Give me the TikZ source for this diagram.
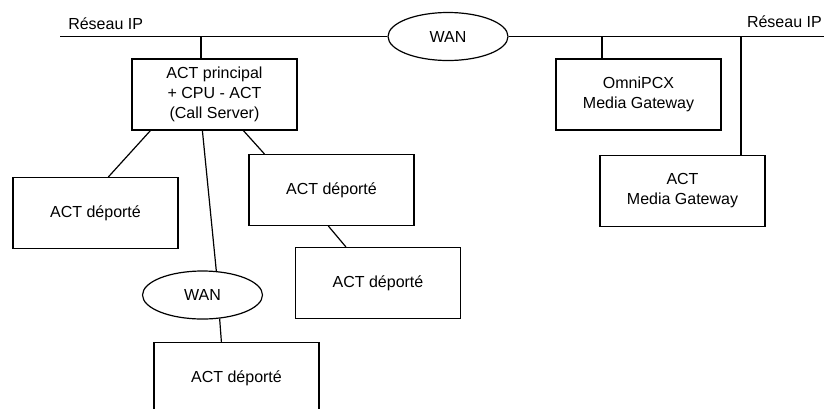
\documentclass[tikz,border=0pt]{standalone}
\usepackage{fontspec}
\setmainfont{Liberation Sans}
\usetikzlibrary{positioning,calc,shapes.geometric}
\tikzset{
    font=\fontsize{12}{15}\selectfont,
    act box/.style={rectangle,draw,line width=0.9pt,align=center,minimum width=123.75pt,minimum height=53.25pt,inner sep=0pt},
    wan cloud/.style={ellipse,draw,line width=0.9pt,minimum width=90pt,minimum height=36pt,inner sep=0pt},
    net label/.style={anchor=west,inner sep=0pt},
    link/.style={line width=0.9pt}
}

\begin{document}
\begin{tikzpicture}[x=0.75pt,y=-0.75pt]
    \useasboundingbox (0,0) rectangle (824,408);
    \clip (0,0) rectangle (824,408);
    % backbone
    \coordinate (busL) at (60,36.5);
    \coordinate (busR) at (830,36.5);
    \coordinate (tapA) at (201,36.5);
    \coordinate (tapB) at (602,36.5);
    \coordinate (tapC) at (741,36.5);
    \node[wan cloud] (wan1) at (448,36.5) {WAN};
    \node[net label] (ipL) at (68,24) {Réseau IP};
    \node[net label, anchor=east] (ipR) at (822,22) {Réseau IP};
    % sites
    \node[act box] (main) at (214.5,94.5) {ACT principal\\+ CPU - ACT\\(Call Server)};
    \node[act box] (omni) at (638.5,94.5) {OmniPCX\\Media Gateway};
    \node[act box] (actmg) at (682.5,191) {ACT\\Media Gateway};
    \node[act box] (dep1) at (95.5,213) {ACT déporté};
    \node[act box] (dep2) at (331.5,190) {ACT déporté};
    \node[act box] (dep3) at (378,283) {ACT déporté};
    \node[wan cloud] (wan2) at (202.5,295) {WAN};
    \node[act box] (dep4) at (236.5,378) {ACT déporté};
    \path[link]
        (busL) edge (wan1)
        (wan1) edge (busR)
        (tapA) edge (tapA |- main.north)
        (tapB) edge (tapB |- omni.north)
        (tapC) edge (tapC |- actmg.north)
        ($(main.south west)+(19,0)$) edge ($(dep1.north west)+(96,0)$)
        ($(main.south west)+(71,0)$) edge (wan2.60)
        ($(main.south west)+(112,0)$) edge ($(dep2.north west)+(16,0)$)
        ($(dep2.south west)+(80,0)$) edge ($(dep3.north west)+(51,0)$)
        (wan2.-54) edge ($(dep4.north west)+(68,0)$)
        ;
\end{tikzpicture}
\end{document}
